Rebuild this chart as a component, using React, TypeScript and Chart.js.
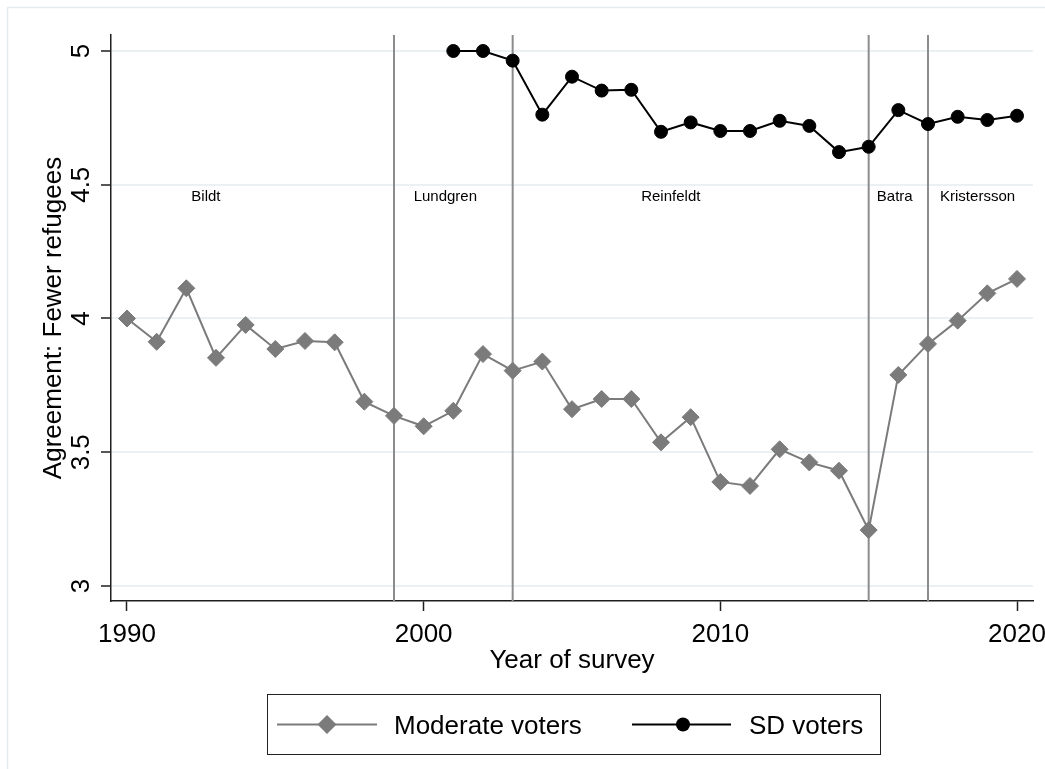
import React, { useEffect, useRef } from "react";
import { Chart, registerables } from "chart.js";

Chart.register(...registerables);

const years = [1990, 1991, 1992, 1993, 1994, 1995, 1996, 1997, 1998, 1999, 2000, 2001, 2002, 2003, 2004, 2005, 2006, 2007, 2008, 2009, 2010, 2011, 2012, 2013, 2014, 2015, 2016, 2017, 2018, 2019, 2020];
const moderateVoters = [4.0, 3.913, 4.113, 3.853, 3.976, 3.886, 3.916, 3.911, 3.689, 3.636, 3.597, 3.655, 3.867, 3.805, 3.839, 3.661, 3.699, 3.699, 3.537, 3.631, 3.389, 3.374, 3.511, 3.462, 3.431, 3.209, 3.789, 3.905, 3.992, 4.094, 4.148];
const sdYears = [2001, 2002, 2003, 2004, 2005, 2006, 2007, 2008, 2009, 2010, 2011, 2012, 2013, 2014, 2015, 2016, 2017, 2018, 2019, 2020];
const sdVoters = [5.0, 5.0, 4.964, 4.762, 4.904, 4.852, 4.855, 4.698, 4.733, 4.701, 4.701, 4.739, 4.72, 4.622, 4.642, 4.779, 4.727, 4.754, 4.742, 4.758];

const leaderChangeYears = [1999, 2003, 2015, 2017];
const leaderNames = ["Bildt", "Lundgren", "Reinfeldt", "Batra", "Kristersson"];
const leaderLabelX = [1992.66, 2000.73, 2008.33, 2015.88, 2018.67];
const leaderLabelY = 4.44;

const xTicks = [1990, 2000, 2010, 2020];
const xTickLabels = ["1990", "2000", "2010", "2020"];
const yTicks = [3, 3.5, 4, 4.5, 5];
const yTickLabels = ["3", "3.5", "4", "4.5", "5"];

const xTitle = "Year of survey";
const yTitle = "Agreement: Fewer refugees";
const seriesNames = ["Moderate voters", "SD voters"];

const FONT = '"Liberation Sans", Arial, sans-serif';
const GREY = "#7b7b7b";
const VLINE = "#8c8c8c";
const AXIS = "#1e1e1e";

const decorPlugin = {
  id: "stataDecor",
  beforeDraw(chart: any) {
    const ctx = chart.ctx;
    ctx.save();
    ctx.fillStyle = "#ffffff";
    ctx.fillRect(0, 0, chart.width, chart.height);
    ctx.strokeStyle = "#e4ecee";
    ctx.lineWidth = 1.5;
    ctx.strokeRect(7.5, 7.5, chart.width + 100, chart.height + 100);
    ctx.restore();
  },
  beforeDatasetsDraw(chart: any) {
    const ctx = chart.ctx;
    const { top, bottom } = chart.chartArea;
    const xs = chart.scales.x;
    ctx.save();
    ctx.strokeStyle = VLINE;
    ctx.lineWidth = 2;
    leaderChangeYears.forEach((yr) => {
      const px = xs.getPixelForValue(yr);
      ctx.beginPath();
      ctx.moveTo(px, top);
      ctx.lineTo(px, bottom);
      ctx.stroke();
    });
    ctx.restore();
  },
  afterDraw(chart: any) {
    const ctx = chart.ctx;
    const xs = chart.scales.x;
    const ys = chart.scales.y;
    const { left, right, top, bottom } = chart.chartArea;
    ctx.save();
    ctx.fillStyle = "#000000";
    ctx.font = `26px ${FONT}`;
    ctx.textBaseline = "alphabetic";

    // x tick labels
    ctx.textAlign = "center";
    xTicks.forEach((v, i) => {
      ctx.fillText(xTickLabels[i], xs.getPixelForValue(v), 642);
    });
    // x title
    ctx.fillText(xTitle, (left + right) / 2, 668);

    // y tick labels (rotated)
    yTicks.forEach((v, i) => {
      ctx.save();
      ctx.translate(89, ys.getPixelForValue(v));
      ctx.rotate(-Math.PI / 2);
      ctx.textAlign = "center";
      ctx.fillText(yTickLabels[i], 0, 0);
      ctx.restore();
    });
    // y title
    ctx.save();
    ctx.translate(61, (top + bottom) / 2);
    ctx.rotate(-Math.PI / 2);
    ctx.textAlign = "center";
    ctx.fillText(yTitle, 0, 0);
    ctx.restore();

    // leader annotations
    ctx.font = `15px ${FONT}`;
    ctx.textAlign = "center";
    leaderNames.forEach((name, i) => {
      ctx.fillText(name, xs.getPixelForValue(leaderLabelX[i]), ys.getPixelForValue(leaderLabelY));
    });

    // legend
    const lx = 267.5, ly = 694.5, lw = 613, lh = 60;
    const cy = ly + lh / 2;
    ctx.strokeStyle = "#222222";
    ctx.lineWidth = 1;
    ctx.strokeRect(lx, ly, lw, lh);

    ctx.strokeStyle = GREY;
    ctx.lineWidth = 2;
    ctx.beginPath();
    ctx.moveTo(277, cy);
    ctx.lineTo(377, cy);
    ctx.stroke();
    ctx.fillStyle = GREY;
    ctx.beginPath();
    ctx.moveTo(327 - 9.5, cy);
    ctx.lineTo(327, cy - 9.5);
    ctx.lineTo(327 + 9.5, cy);
    ctx.lineTo(327, cy + 9.5);
    ctx.closePath();
    ctx.fill();

    ctx.strokeStyle = "#000000";
    ctx.beginPath();
    ctx.moveTo(632, cy);
    ctx.lineTo(731, cy);
    ctx.stroke();
    ctx.fillStyle = "#000000";
    ctx.beginPath();
    ctx.arc(683, cy, 7, 0, Math.PI * 2);
    ctx.fill();

    ctx.font = `26px ${FONT}`;
    ctx.textAlign = "left";
    ctx.fillStyle = "#000000";
    ctx.fillText(seriesNames[0], 394, cy + 9.5);
    ctx.fillText(seriesNames[1], 749, cy + 9.5);
    ctx.restore();
  },
};

export default function App() {
  const canvasRef = useRef<HTMLCanvasElement | null>(null);

  useEffect(() => {
    const canvas = canvasRef.current;
    if (!canvas) return;
    const chart = new Chart(canvas, {
      type: "line",
      data: {
        datasets: [
          {
            label: seriesNames[0],
            data: years.map((x, i) => ({ x, y: moderateVoters[i] })),
            borderColor: GREY,
            backgroundColor: GREY,
            borderWidth: 2,
            pointStyle: "rectRot",
            pointRadius: 8.5,
            pointBorderWidth: 1,
            pointBorderColor: GREY,
            pointBackgroundColor: GREY,
            tension: 0,
          },
          {
            label: seriesNames[1],
            data: sdYears.map((x, i) => ({ x, y: sdVoters[i] })),
            borderColor: "#000000",
            backgroundColor: "#000000",
            borderWidth: 2,
            pointStyle: "circle",
            pointRadius: 6.5,
            pointBorderWidth: 1,
            pointBorderColor: "#000000",
            pointBackgroundColor: "#000000",
            tension: 0,
          },
        ],
      },
      options: {
        responsive: false,
        animation: false,
        events: [],
        layout: { padding: { left: 0, right: 12, top: 35, bottom: 0 } },
        plugins: {
          legend: { display: false },
          tooltip: { enabled: false },
          title: { display: false },
        },
        scales: {
          x: {
            type: "linear",
            min: 1989.461,
            max: 2020.539,
            afterBuildTicks: (s: any) => {
              s.ticks = xTicks.map((v) => ({ value: v }));
            },
            afterFit: (s: any) => {
              s.height = 168;
            },
            ticks: { display: false },
            grid: {
              drawOnChartArea: false,
              drawTicks: true,
              tickLength: 10,
              tickColor: AXIS,
              tickWidth: 1.5,
            },
            border: { display: true, color: AXIS, width: 1.5 },
          },
          y: {
            type: "linear",
            min: 2.9439,
            max: 5.0598,
            afterBuildTicks: (s: any) => {
              s.ticks = yTicks.map((v) => ({ value: v }));
            },
            afterFit: (s: any) => {
              s.width = 111;
            },
            ticks: { display: false },
            grid: {
              color: "#e9f1f3",
              lineWidth: 2,
              drawTicks: true,
              tickLength: 10,
              tickColor: AXIS,
              tickWidth: 1.5,
            },
            border: { display: true, color: AXIS, width: 1.5 },
          },
        },
      },
      plugins: [decorPlugin],
    });
    return () => chart.destroy();
  }, []);

  return (
    <div style={{ position: "absolute", left: 0, top: 0, width: 1045, height: 769, background: "#fff" }}>
      <canvas ref={canvasRef} width={1045} height={769} style={{ width: 1045, height: 769, display: "block" }} />
    </div>
  );
}
